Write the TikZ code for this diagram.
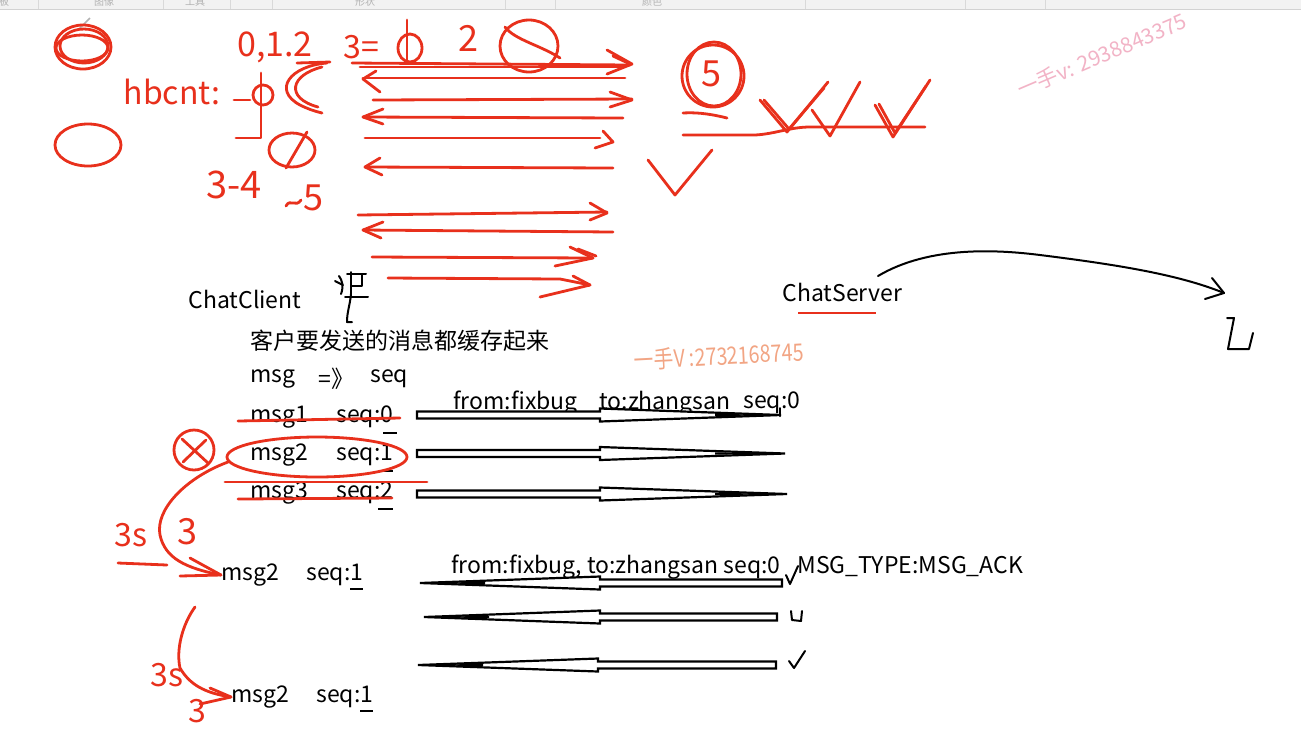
\documentclass[tikz,border=0pt]{standalone}
\usepackage{fontspec}
\setmainfont{Noto Sans CJK SC}
\usetikzlibrary{arrows.meta}
\definecolor{pen}{HTML}{E8301C}
\definecolor{wmpink}{HTML}{F2B3C6}
\definecolor{wmorange}{HTML}{F2A584}
\definecolor{barbg}{HTML}{F2F2F2}
\tikzset{
  hand/.style={pen, line width=1.4pt, line cap=round, line join=round},
  ink/.style={black, line width=1pt, line cap=round, line join=round},
  txt/.style={anchor=west, inner sep=0pt},
  htxt/.style={text=pen, inner sep=0pt, font=\fontsize{16}{16}\selectfont},
  hollow/.style={draw=black, line width=1.1pt, fill=white, line join=miter},
  under/.style={black, line width=0.9pt}
}
\begin{document}
\begin{tikzpicture}[x=0.5pt, y=-0.5pt, font=\fontsize{11.5}{13}\selectfont]
\useasboundingbox (0,0) rectangle (1301,730);
\fill[white] (0,0) rectangle (1301,730);
% toolbar strip
\fill[barbg] (0,0) rectangle (1301,9);
\draw[gray!35, line width=0.4pt] (0,9.5) -- (1301,9.5);
\foreach \sx in {38,163,230,272,505,555,805,965,1045}{\draw[gray!30, line width=0.4pt] (\sx,0) -- (\sx,9);}
\begin{scope}
\clip (0,0) rectangle (1301,9);
\foreach \lx/\lt in {4/板,104/图像,195/工具,365/形状,652/颜色}{\node[text=gray!60, inner sep=0pt, font=\fontsize{5}{5}\selectfont] (tb\lx) at (\lx,2) {\lt};}
\end{scope}
% pencil cursor
\draw[gray!60, line width=0.8pt] (80,28) -- (90,18);

% ---------- top-left handwriting ----------
\draw[hand] (83,47) ellipse [x radius=28, y radius=22];
\draw[hand] (84,46) ellipse [x radius=24, y radius=17];
\draw[hand] (82,48) ellipse [x radius=26, y radius=13];
\draw[hand] (88,145) ellipse [x radius=33, y radius=21];

\node[htxt] (hb) at (172,92) {hbcnt:};
\draw[hand] (234,100) -- (250,100);
\draw[hand] (263,95) circle [radius=10];
\draw[hand] (261,73) -- (261,138) -- (236,138);
\node[htxt, font=\fontsize{17}{17}\selectfont] (cnt) at (275,47) {0,1.2};
\draw[hand] (297,63) -- (330,62);
\draw[hand] (327,63) .. controls (290,66) and (272,90) .. (300,105) .. controls (308,109) and (314,111) .. (322,113);
\draw[hand] (322,67) .. controls (290,75) and (285,98) .. (318,107);
\draw[hand] (292,150) ellipse [x radius=23, y radius=17];
\draw[hand] (307,132) -- (286,168);
\node[htxt, font=\fontsize{19}{19}\selectfont] (c34) at (234,185) {3-4};
\draw[hand] (286,206) .. controls (290,198) and (296,208) .. (301,200);
\node[htxt, font=\fontsize{18}{18}\selectfont] (c5) at (313,198) {5};

% top counting
\node[htxt] (teq) at (361,47) {3=};
\draw[hand] (410,48) ellipse [x radius=12, y radius=14];
\draw[hand] (407,20) -- (407,63);
\node[htxt, font=\fontsize{18}{18}\selectfont] (t2) at (468,38) {2};
\draw[hand] (529,46) ellipse [x radius=29, y radius=26];
\draw[hand] (505,27) .. controls (515,40) and (540,45) .. (560,58);

% red arrows
\draw[hand] (352,63) -- (630,65);
\draw[hand] (360,67) -- (625,67);
\draw[hand] (607,50) -- (632,64) -- (607,74);
\draw[hand] (613,56) -- (630,64);
\draw[hand] (625,78) -- (363,78);
\draw[hand] (376,71) -- (363,79) -- (380,92);
\draw[hand] (373,100) -- (632,99);
\draw[hand] (610,92) -- (632,100) -- (610,107);
\draw[hand] (623,118) -- (363,117);
\draw[hand] (383,109) -- (363,117) -- (383,124);
\draw[hand] (365,138) -- (600,138);
\draw[hand] (603,131) -- (613,142) -- (595,148);
\draw[hand] (613,168) -- (365,167);
\draw[hand] (380,158) -- (365,167) -- (382,175);
\draw[hand] (358,215) -- (607,212);
\draw[hand] (590,203) -- (607,213) -- (590,220);
\draw[hand] (613,232) -- (363,230);
\draw[hand] (383,222) -- (363,230) -- (381,238);
\draw[hand] (372,257) -- (593,258);
\draw[hand] (570,247) -- (593,258) -- (555,266);
\draw[hand] (578,249) -- (596,256);
\draw[hand] (388,278) -- (560,279) -- (590,285);
\draw[hand] (573,276) -- (590,285) -- (540,297);

% circled 5 and checks
\draw[hand] (713,76) circle [radius=31];
\draw[hand] (714,74) ellipse [x radius=27, y radius=32];
\node[htxt, font=\fontsize{18}{18}\selectfont] (c5b) at (711,74) {5};
\draw[hand] (683,113) .. controls (700,112) and (715,115) .. (727,118);
\draw[hand] (683,135) -- (755,135) .. controls (775,134) and (790,127) .. (810,127) -- (925,127);
\draw[hand] (760,100) -- (787,132) -- (828,82);
\draw[hand] (764,100) -- (789,129) -- (824,88);
\draw[hand] (812,110) -- (830,136) -- (860,82);
\draw[hand] (875,105) -- (893,137) -- (930,80);
\draw[hand] (879,104) -- (895,133) -- (926,86);
\draw[hand] (648,160) -- (675,195) -- (712,150);

% watermarks
\node[text=wmpink, inner sep=0pt, rotate=23, font=\fontsize{10.5}{11}\selectfont] (wm1) at (1102,55) {一手v: 2938843375};
\node[text=wmorange, inner sep=0pt, rotate=3, xscale=0.82, font=\fontsize{12}{12}\selectfont] (wm2) at (719,356) {一手V :2732168745};

% ---------- client ----------
\node[txt] (cc) at (188,299) {ChatClient};
\draw[ink] (335,281) -- (343,285);
\draw[ink] (339,276) .. controls (342,280) and (344,286) .. (341,294);
\draw[ink] (347,274) -- (366,274);
\draw[ink] (351,272) -- (351,294);
\draw[ink] (362,274) -- (362,286) -- (351,286);
\draw[ink] (345,297) -- (368,297);
\draw[ink] (351,294) .. controls (350,305) and (347,312) .. (347,322) -- (352,322);

\node[txt] (zh) at (250,341) {客户要发送的消息都缓存起来};
\node[txt] (ma) at (250,379) {msg};
\node[txt] (mb) at (318,379) {=》};
\node[txt] (mc) at (370,379) {seq};

\node[txt] (m1a) at (250,417) {msg1};
\node[txt] (m1b) at (336,417) {seq:0};
\node[txt] (m2a) at (250,455) {msg2};
\node[txt] (m2b) at (336,455) {seq:1};
\node[txt] (m3a) at (250,493) {msg3};
\node[txt] (m3b) at (336,493) {seq:2};
\draw[under] (383,433) -- (397,433);
\draw[under] (380,471) -- (393,471);
\draw[under] (378,509) -- (393,509);

\draw[hand] (238,421) -- (400,418);
\draw[hand] (225,482) -- (427,482);
\draw[hand] (238,499) -- (392,498);
\draw[hand] (317,457) ellipse [x radius=90, y radius=20];
\draw[hand] (194,450) circle [radius=20];
\draw[hand] (182,439) -- (208,463);
\draw[hand] (206,440) -- (183,462);

\node[txt] (n1a) at (221,575) {msg2};
\node[txt] (n1b) at (306,575) {seq:1};
\draw[under] (350,589) -- (363,589);
\node[txt] (n2a) at (231,697) {msg2};
\node[txt] (n2b) at (316,697) {seq:1};
\draw[under] (360,711) -- (373,711);

\draw[hand] (228,462) .. controls (185,478) and (155,510) .. (160,535) .. controls (165,558) and (185,568) .. (n1a.west);
\draw[hand] (190,558) -- (n1a.west) -- (180,576);
\node[htxt] (s1) at (131,535) {3s};
\draw[hand] (118,563) -- (167,565);
\node[htxt, font=\fontsize{18}{18}\selectfont] (s1b) at (187,532) {3};

\draw[hand] (195,607) .. controls (182,625) and (176,650) .. (180,668) .. controls (190,685) and (205,693) .. (n2a.west);
\draw[hand] (210,688) -- (n2a.west) -- (200,704);
\node[htxt] (s2) at (167,675) {3s};
\node[htxt, font=\fontsize{16}{16}\selectfont] (s2b) at (197,711) {3};

% ---------- messages to server ----------
\node[txt] (f1a) at (453,403) {from:fixbug};
\node[txt] (f1b) at (599,403) {to:zhangsan};
\node[txt] (f1c) at (743,403) {seq:0};
\foreach \yy/\tip in {415/781, 453.5/785, 494/787}{
  \draw[hollow] (417,\yy-3.5) -- (600,\yy-3.5) -- (600,\yy-6.5) -- (\tip,\yy) -- (600,\yy+6.5) -- (600,\yy+3.5) -- (417,\yy+3.5) -- cycle;
  \fill[black] (715,\yy-1.2) -- (\tip,\yy) -- (715,\yy+1.2) -- cycle;
}
\draw[ink] (780,408) -- (780,416);

\node[txt] (f2a) at (451,567) {from:fixbug, to:zhangsan seq:0};
\node[txt] (f2b) at (797,567) {MSG\_TYPE:MSG\_ACK};
\foreach \yy/\tip/\sh/\en in {583/420/600/782, 617/424/600/777, 665/418/598/776}{
  \draw[hollow] (\en,\yy-3.5) -- (\sh,\yy-3.5) -- (\sh,\yy-6.5) -- (\tip,\yy) -- (\sh,\yy+6.5) -- (\sh,\yy+3.5) -- (\en,\yy+3.5) -- cycle;
  \fill[black] (\tip+65,\yy-1.2) -- (\tip,\yy) -- (\tip+65,\yy+1.2) -- cycle;
}
\draw[ink] (786,575) -- (790,584) -- (798,566);
\draw[ink] (791,611) -- (792,620) -- (801,621) -- (802,611);
\draw[ink] (789,661) -- (794,668) -- (805,651);

% ---------- server ----------
\node[txt] (cs) at (782,292) {ChatServer};
\draw[pen, line width=1.2pt] (798,313) -- (876,313);
\coordinate (arcend) at (1224,293);
\draw[ink] (878,276) .. controls (930,245) and (1000,250) .. (1040,255) .. controls (1120,265) and (1180,275) .. (arcend);
\draw[ink] (1212,278) -- (arcend) -- (1205,299);
\draw[ink] (1227,318) -- (1234,318) -- (1228,349) -- (1249,349) -- (1253,333);
\end{tikzpicture}
\end{document}
